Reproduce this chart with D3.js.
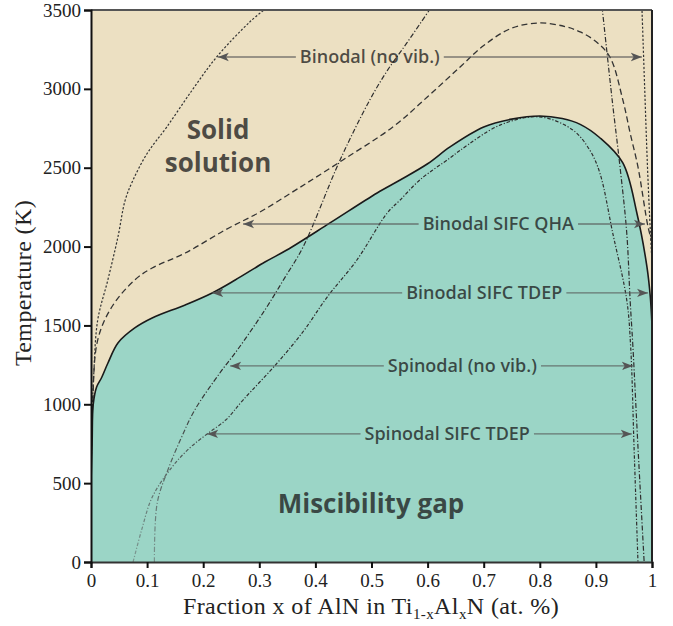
<!DOCTYPE html>
<html lang="en">

<head>
    <meta charset="UTF-8">
    <title>TiAlN phase diagram</title>
    <script src="https://cdn.jsdelivr.net/npm/d3@7"></script>
    <style>
        body {
            margin: 0;
            background: #ffffff;
        }

        .serif {
            font-family: 'Liberation Serif', serif;
            fill: #222;
        }

        .label {
            font-family: 'Open Sans', sans-serif;
            font-weight: 600;
            fill: #1a1a1a;
            fill-opacity: 0.76;
        }
    </style>
</head>

<body>
    <div id="chart"></div>
    <script>
        // curves as [x fraction, T in K]
        const binodalTdep = [[0, 500], [0.002, 760], [0.004, 1000], [0.01, 1110], [0.019, 1170], [0.03, 1260],
        [0.048, 1389], [0.078, 1484], [0.109, 1547], [0.168, 1630], [0.216, 1706], [0.257, 1788], [0.31, 1902],
        [0.349, 1978], [0.426, 2150], [0.51, 2340], [0.551, 2422], [0.6, 2525], [0.64, 2632], [0.7, 2758],
        [0.75, 2808], [0.8, 2828], [0.84, 2812], [0.872, 2775], [0.907, 2690], [0.948, 2530], [0.973, 2213],
        [0.991, 1871], [0.997, 1680], [1, 1500]]

        const binodalQha = [[0, 480], [0.003, 1000], [0.012, 1408], [0.037, 1617], [0.078, 1788], [0.109, 1864],
        [0.168, 1959], [0.239, 2105], [0.301, 2219], [0.37, 2370], [0.449, 2549], [0.538, 2758], [0.6, 2950],
        [0.658, 3139], [0.7, 3275], [0.75, 3385], [0.8, 3418], [0.845, 3395], [0.872, 3361], [0.9, 3300],
        [0.925, 3202], [0.948, 2930], [0.961, 2720], [0.975, 2505], [0.993, 2124], [1, 2030]]

        const binodalNoVibLeft = [[0, 480], [0.002, 900], [0.005, 1200], [0.012, 1535], [0.03, 1788], [0.048, 2061],
        [0.061, 2295], [0.075, 2422], [0.1, 2590], [0.135, 2758], [0.18, 2990], [0.224, 3202], [0.283, 3424],
        [0.315, 3520]]
        const binodalNoVibRight = [[0.982, 3520], [0.987, 3000], [0.992, 2500], [0.997, 2100], [1, 1900]]

        const spinodalNoVibLeft = [[0.113, 0], [0.118, 374], [0.137, 583], [0.16, 780], [0.185, 964], [0.23, 1200],
        [0.26, 1340], [0.31, 1598], [0.345, 1800], [0.378, 1997], [0.444, 2549], [0.497, 2930], [0.529, 3120],
        [0.563, 3291], [0.607, 3520]]
        const spinodalNoVibRight = [[0.911, 3520], [0.929, 2930], [0.943, 2505], [0.955, 2086], [0.961, 1661],
        [0.966, 1363], [0.975, 729], [0.986, 0]]

        const spinodalTdep = [[0.075, 0], [0.09, 200], [0.109, 410], [0.144, 600], [0.175, 720], [0.207, 812],
        [0.24, 900], [0.271, 1027], [0.332, 1262], [0.38, 1470], [0.421, 1680], [0.474, 1915], [0.528, 2213],
        [0.551, 2295], [0.586, 2422], [0.64, 2562], [0.658, 2610], [0.729, 2770], [0.8, 2822], [0.859, 2739],
        [0.889, 2612], [0.907, 2467], [0.93, 2086], [0.955, 1661], [0.962, 1363], [0.968, 729], [0.975, 0]]

        const xTicks = [0, 0.1, 0.2, 0.3, 0.4, 0.5, 0.6, 0.7, 0.8, 0.9, 1]
        const yTicks = [0, 500, 1000, 1500, 2000, 2500, 3000, 3500]

        // arrow labels: text, T level, left tip x, right tip x, text centre x
        const arrowNames = ["Binodal (no vib.)", "Binodal SIFC QHA", "Binodal SIFC TDEP", "Spinodal (no vib.)", "Spinodal SIFC TDEP"]
        const arrowT = [3202, 2143, 1706, 1243, 812]
        const arrowLeft = [0.226, 0.271, 0.216, 0.248, 0.207]
        const arrowRight = [0.982, 0.9875, 0.993, 0.966, 0.964]
        const arrowCenter = [0.497, 0.726, 0.701, 0.662, 0.635]

        const width = 673
        const height = 626

        const x = d3.scaleLinear().domain([0, 1]).range([91, 652])
        const y = d3.scaleLinear().domain([0, 3500]).range([562, 10])

        const svg = d3.select("#chart").append("svg")
            .attr("width", width)
            .attr("height", height)

        const defs = svg.append("defs")
        defs.append("clipPath").attr("id", "plot")
            .append("rect")
            .attr("x", x(0)).attr("y", y(3500))
            .attr("width", x(1) - x(0)).attr("height", y(0) - y(3500))

        defs.append("marker")
            .attr("id", "head")
            .attr("viewBox", "0 0 10 10")
            .attr("refX", 10).attr("refY", 5)
            .attr("markerWidth", 11).attr("markerHeight", 11)
            .attr("markerUnits", "userSpaceOnUse")
            .attr("orient", "auto")
            .append("path")
            .attr("d", "M0,1.2 L10,5 L0,8.8 L2.5,5 z")
            .attr("fill", "#555")

        // spinodals fade to a lighter grey near the bottom left
        const grad = defs.append("linearGradient")
            .attr("id", "fade")
            .attr("gradientUnits", "userSpaceOnUse")
            .attr("x1", 150).attr("y1", 560).attr("x2", 230).attr("y2", 380)
        grad.append("stop").attr("offset", 0).attr("stop-color", "#7a958f")
        grad.append("stop").attr("offset", 1).attr("stop-color", "#2e2e2e")

        const plot = svg.append("g").attr("clip-path", "url(#plot)")

        plot.append("rect")
            .attr("x", x(0)).attr("y", y(3500))
            .attr("width", x(1) - x(0)).attr("height", y(0) - y(3500))
            .attr("fill", "#ece0c2")

        const area = d3.area()
            .x(d => x(d[0]))
            .y0(y(0))
            .y1(d => y(d[1]))
            .curve(d3.curveCatmullRom.alpha(0.5))

        plot.append("path")
            .attr("d", area(binodalTdep))
            .attr("fill", "#9bd5c6")

        const line = d3.line()
            .x(d => x(d[0]))
            .y(d => y(d[1]))
            .curve(d3.curveCatmullRom.alpha(0.5))

        const curves = [
            { data: binodalNoVibLeft, dash: "2.2,1.8", color: "#333", w: 1.2 },
            { data: binodalNoVibRight, dash: "2.2,1.8", color: "#333", w: 1.2 },
            { data: binodalQha, dash: "6,3.5", color: "#333", w: 1.3 },
            { data: spinodalNoVibLeft, dash: "5,2,1.2,2", color: "url(#fade)", w: 1.2 },
            { data: spinodalNoVibRight, dash: "5,2,1.2,2", color: "#2e2e2e", w: 1.2 },
            { data: spinodalTdep, dash: "3.5,1.8,1.2,1.8", color: "url(#fade)", w: 1.2 }
        ]

        plot.selectAll(".curve")
            .data(curves)
            .enter().append("path")
            .attr("class", "curve")
            .attr("d", d => line(d.data))
            .attr("fill", "none")
            .attr("stroke", d => d.color)
            .attr("stroke-width", d => d.w)
            .attr("stroke-dasharray", d => d.dash)

        plot.append("path")
            .attr("d", line(binodalTdep))
            .attr("fill", "none")
            .attr("stroke", "#1a1a1a")
            .attr("stroke-width", 1.6)

        // region names
        const big = svg.append("g").attr("class", "label").style("font-weight", 700).style("font-size", "26px")
        big.append("text").attr("x", 218).attr("y", 139).attr("text-anchor", "middle").text("Solid")
        big.append("text").attr("x", 218).attr("y", 172).attr("text-anchor", "middle").text("solution")
        big.append("text").attr("x", 371).attr("y", 513).attr("text-anchor", "middle").text("Miscibility gap")

        // arrow labels
        const arrows = svg.append("g")
        arrowNames.forEach((name, i) => {
            const yy = y(arrowT[i])
            const t = arrows.append("text")
                .attr("class", "label")
                .attr("x", x(arrowCenter[i]))
                .attr("y", yy + 6)
                .attr("text-anchor", "middle")
                .style("font-size", "18px")
                .text(name)
            const bb = t.node().getBBox()
            const g = arrows.append("g").attr("stroke", "#555").attr("stroke-opacity", 0.75)
                .attr("stroke-width", 1.3)
            g.append("line")
                .attr("x1", bb.x - 4).attr("x2", x(arrowLeft[i]))
                .attr("y1", yy).attr("y2", yy)
                .attr("marker-end", "url(#head)")
            g.append("line")
                .attr("x1", bb.x + bb.width + 4).attr("x2", x(arrowRight[i]))
                .attr("y1", yy).attr("y2", yy)
                .attr("marker-end", "url(#head)")
        })

        // frame
        svg.append("line").attr("x1", x(0)).attr("x2", x(1)).attr("y1", y(3500)).attr("y2", y(3500))
            .attr("stroke", "#555").attr("stroke-width", 1.8)
        svg.append("line").attr("x1", x(1)).attr("x2", x(1)).attr("y1", y(3500)).attr("y2", y(0))
            .attr("stroke", "#222").attr("stroke-width", 2)

        const xAxis = svg.append("g")
            .attr("transform", `translate(0,${y(0)})`)
            .call(d3.axisBottom(x).tickValues(xTicks).tickSize(6).tickPadding(6)
                .tickFormat(d => d === 0 ? "0" : d === 1 ? "1" : d3.format(".1f")(d)))
        xAxis.select(".domain").attr("stroke", "#333").attr("stroke-width", 2)
        xAxis.selectAll(".tick line").attr("stroke", "#111").attr("stroke-width", 2)
        xAxis.selectAll(".tick text").attr("class", "serif").style("font-size", "19px")

        const yAxis = svg.append("g")
            .attr("transform", `translate(${x(0)},0)`)
            .call(d3.axisLeft(y).tickValues(yTicks).tickSize(7).tickPadding(3).tickFormat(d3.format("d")))
        yAxis.select(".domain").attr("stroke", "#111").attr("stroke-width", 2)
        yAxis.selectAll(".tick line").attr("stroke", "#111").attr("stroke-width", 2)
        yAxis.selectAll(".tick text").attr("class", "serif").style("font-size", "19px")

        svg.selectAll(".tick text").attr("fill", "#222")

        // axis titles
        const xt = svg.append("text").attr("class", "serif")
            .attr("x", 371).attr("y", 614)
            .attr("text-anchor", "middle")
            .style("font-size", "24px")
            .style("letter-spacing", "0.4px")
        xt.append("tspan").text("Fraction x of AlN in Ti")
        xt.append("tspan").attr("dy", 5).style("font-size", "15px").text("1-x")
        xt.append("tspan").attr("dy", -5).text("Al")
        xt.append("tspan").attr("dy", 5).style("font-size", "15px").text("x")
        xt.append("tspan").attr("dy", -5).text("N (at. %)")

        svg.append("text").attr("class", "serif")
            .attr("transform", "translate(31,283) rotate(-90)")
            .attr("text-anchor", "middle")
            .style("font-size", "24px")
            .style("letter-spacing", "0.4px")
            .text("Temperature (K)")
    </script>
</body>

</html>
